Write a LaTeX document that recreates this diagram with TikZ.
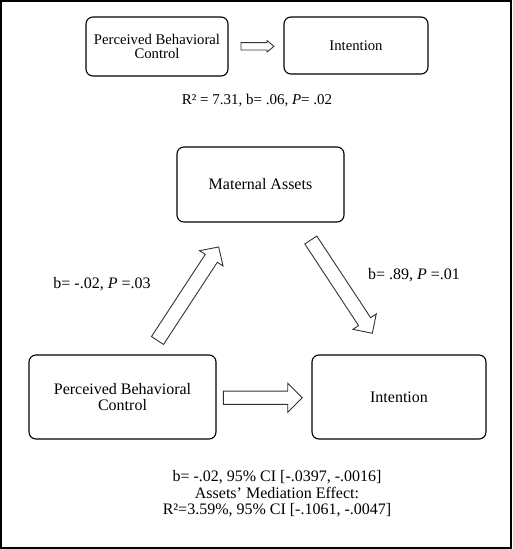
\documentclass[tikz,border=0pt]{standalone}
\usepackage{fontspec}
\setmainfont{Liberation Serif}
\usetikzlibrary{calc}
\newcommand\blockarr[5]{%
  \coordinate (#1-c) at ($(#2)!#5!(#1)$);
  \draw[arrline] ($(#1)!#3!90:(#2)$) -- ($(#1-c)!#3!-90:(#1)$) -- ($(#1-c)!#4!-90:(#1)$)
    -- (#2) -- ($(#1-c)!#4!90:(#1)$) -- ($(#1-c)!#3!90:(#1)$) -- ($(#1)!#3!-90:(#2)$) -- cycle;}
\begin{document}
\begin{tikzpicture}[x=1pt,y=-1pt,
  box/.style={draw, rounded corners=7pt, line width=1.1pt, align=center, inner sep=0pt},
  smalltxt/.style={font=\fontsize{14.7}{14.5}\selectfont},
  bigtxt/.style={font=\fontsize{16}{15.5}\selectfont},
  lbl/.style={font=\fontsize{16}{16.5}\selectfont, align=center, inner sep=0pt},
  arrline/.style={draw=black!80, line width=0.9pt, line join=miter}]
\useasboundingbox (0,0) rectangle (512,549);
\draw[line width=2pt] (1,1) rectangle (511,548);
% top row
\node[box, smalltxt, minimum width=142pt, minimum height=59pt] (pbc1) at (157,46.5) {Perceived Behavioral\\Control};
\node[box, smalltxt, minimum width=144pt, minimum height=57pt] (int1) at (356,45.5) {Intention};
\node[lbl, font=\fontsize{15}{16}\selectfont] (r2) at (257,100) {R² = 7.31, b= .06, \textit{P}= .02};
% mediation
\node[box, bigtxt, minimum width=167pt, minimum height=75pt] (mat) at (260.5,184.5) {Maternal Assets};
\node[box, bigtxt, minimum width=187pt, minimum height=84pt] (pbc2) at (122.5,397) {Perceived Behavioral\\Control};
\node[box, bigtxt, minimum width=174pt, minimum height=84pt] (int2) at (399,397) {Intention};
% arrow end points
\coordinate (t1) at (241,46.3); \coordinate (t2) at (274,46.3);
\coordinate (l1) at (157.5,340.5); \coordinate (l2) at (218.7,247);
\coordinate (r1) at (310.8,240); \coordinate (r2e) at (372.3,333.3);
\coordinate (b1) at (223.3,397.7); \coordinate (b2) at (302.3,397.7);
\blockarr{t1}{t2}{3.7pt}{5.7pt}{7pt}
\blockarr{l1}{l2}{7.2pt}{14pt}{13.5pt}
\blockarr{r1}{r2e}{7.2pt}{14pt}{14pt}
\blockarr{b1}{b2}{6.6pt}{14.5pt}{14.6pt}
% labels
\node[lbl] (la) at (102,284) {b= -.02, \textit{P} =.03};
\node[lbl] (lb) at (414,275) {b= .89, \textit{P} =.01};
\node[lbl] (bot) at (277,494) {b= -.02, 95\% CI [-.0397, -.0016]\\Assets’ Mediation Effect:\\R²=3.59\%, 95\% CI [-.1061, -.0047]};
\end{tikzpicture}
\end{document}
